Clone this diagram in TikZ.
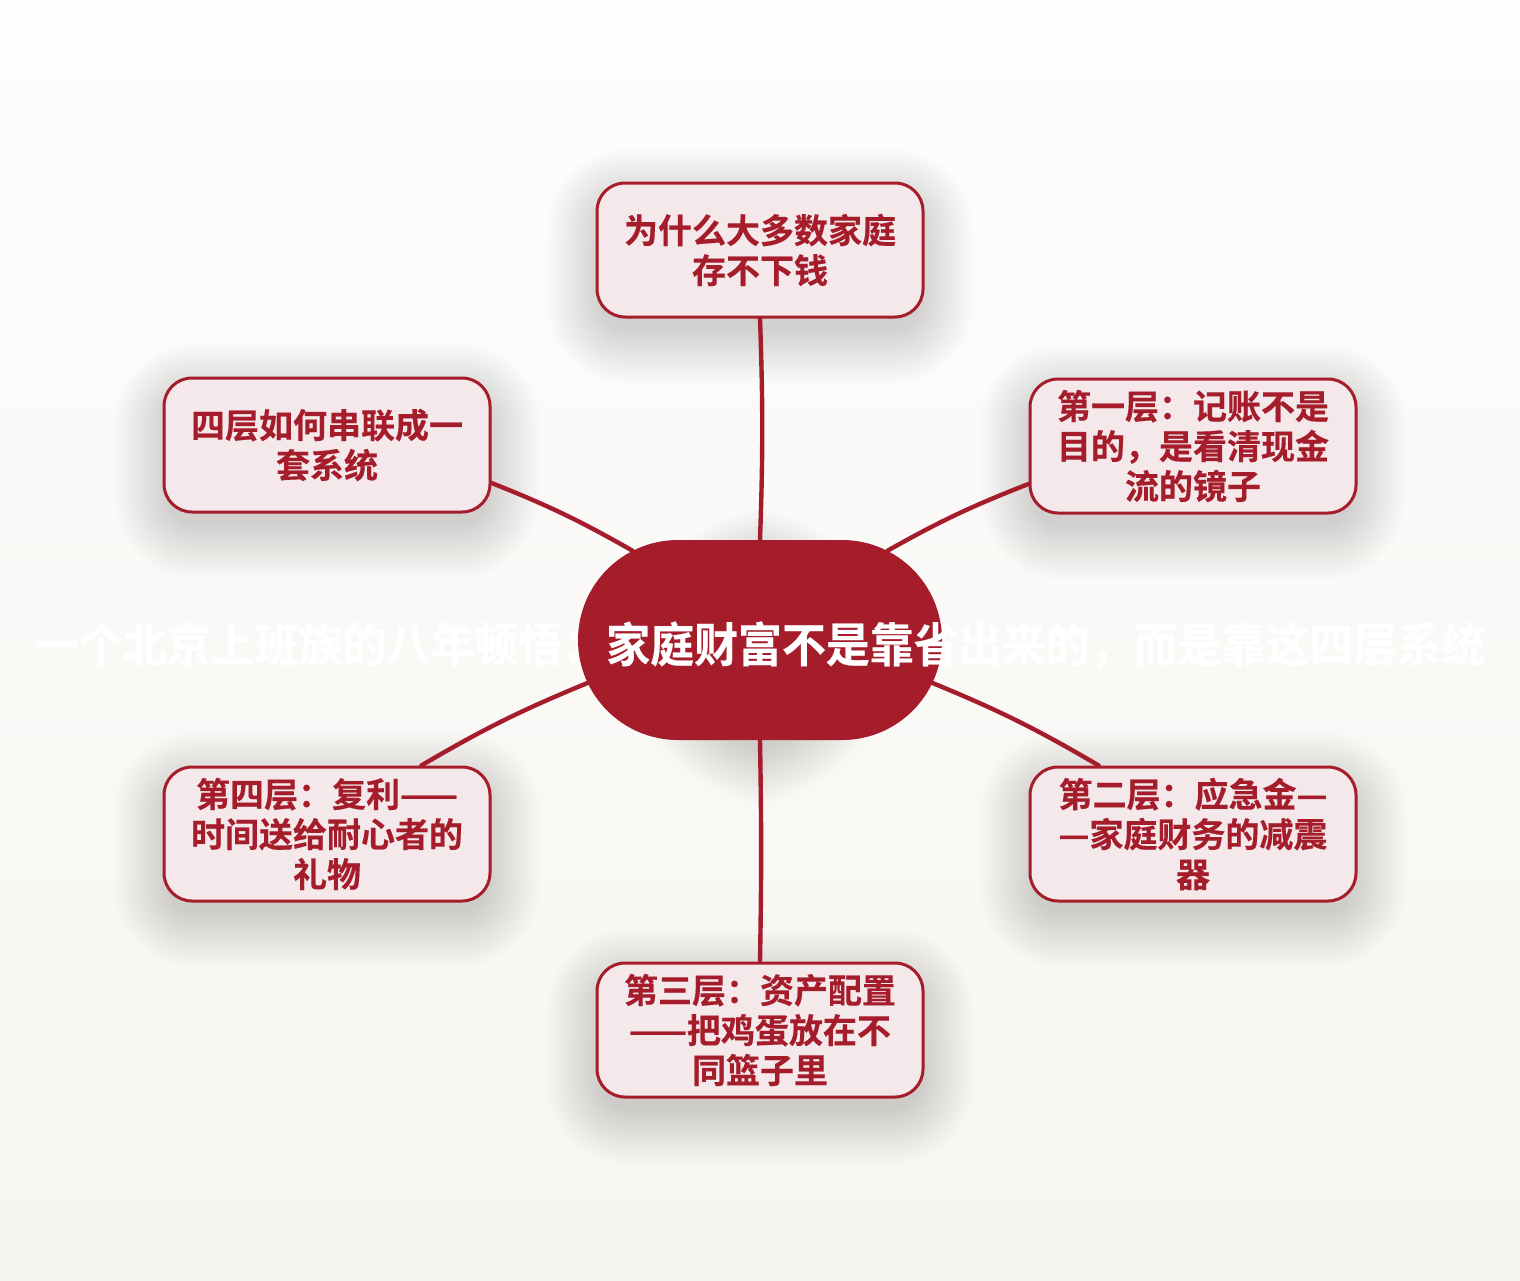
\documentclass[tikz,border=0pt]{standalone}
\usepackage{fontspec}
\usetikzlibrary{shapes.misc}
\newfontfamily\cjk{Noto Sans CJK SC Bold}[FakeBold=0.4]
\newfontfamily\cjkc{Noto Sans CJK SC Bold}[FakeStretch=0.935,FakeBold=0.4]
\definecolor{bgtop}{HTML}{FDFDFD}
\definecolor{bgbot}{HTML}{F7F5F0}
\definecolor{mainred}{HTML}{A51C2B}
\definecolor{pinkfill}{HTML}{F5E8EB}
\pgfdeclarelayer{back}
\pgfdeclarelayer{shadow}
\pgfsetlayers{back,shadow,main}
\tikzset{
  childbox/.style={draw=mainred, line width=1.5pt, fill=pinkfill, rounded corners=14pt,
    minimum width=163pt, minimum height=67pt, inner sep=0pt, align=center,
    text=mainred, font=\cjk\fontsize{17}{20}\selectfont},
  centerbox/.style={rounded rectangle, fill=mainred, draw=none,
    minimum width=182pt, minimum height=100pt, inner sep=0pt},
  centertext/.style={text=white, font=\cjkc\fontsize{23.5}{26}\selectfont, inner sep=0pt},
  link/.style={draw=mainred, line width=2.2pt, line cap=round},
  shadowlayer/.style={fill=black, opacity=0.011}
}
\newcommand{\softshadow}[2]{%
  \foreach \i in {0,...,13} {
    \fill[shadowlayer, rounded corners={(#2+2*\i)*1pt}]
      ([shift={(-4*\i+4,16+4*\i-4)}]#1.south west) rectangle ([shift={(4*\i-4,16-4*\i+4)}]#1.north east);
  }%
}
\begin{document}
\begin{tikzpicture}[x=0.5pt,y=-0.5pt]
\useasboundingbox (0,0) rectangle (1520,1280);
\begin{pgfonlayer}{back}
\shade[top color=bgtop, bottom color=bgbot] (0,0) rectangle (1520,1280);
\end{pgfonlayer}

% child nodes
\node[childbox] (top) at (760,250) {为什么大多数家庭\\存不下钱};
\node[childbox] (rt) at (1193,446) {第一层：记账不是\\目的，是看清现金\\流的镜子};
\node[childbox] (rb) at (1193,834) {第二层：应急金—\\—家庭财务的减震\\器};
\node[childbox] (bot) at (760,1030) {第三层：资产配置\\——把鸡蛋放在不\\同篮子里};
\node[childbox] (lb) at (327,834) {第四层：复利——\\时间送给耐心者的\\礼物};
\node[childbox] (lt) at (327,445) {四层如何串联成一\\套系统};

% connectors
\node[rounded rectangle, minimum width=182pt, minimum height=100pt, inner sep=0pt] (cgeo) at (760,640) {};
\draw[link] (top.south) to[bend left=2] (cgeo.north);
\draw[link] (rt.193) to[bend right=4] (cgeo.35);
\draw[link] (lt.347) to[bend left=4] (cgeo.145);
\draw[link] (lb.36) to[bend left=4] (cgeo.194);
\draw[link] (rb.144) to[bend right=4] (cgeo.346);
\draw[link] (cgeo.south) to[bend left=1] (bot.north);

% center node
\node[centerbox] (center) at (760,640) {};
\node[centertext] (ctitle) at (760,645) {一个北京上班族的八年顿悟：家庭财富不是靠省出来的，而是靠这四层系统};

% shadows
\begin{pgfonlayer}{shadow}
\softshadow{top}{14}
\softshadow{rt}{14}
\softshadow{rb}{14}
\softshadow{bot}{14}
\softshadow{lb}{14}
\softshadow{lt}{14}
\softshadow{center}{50}
\end{pgfonlayer}
\end{tikzpicture}
\end{document}
